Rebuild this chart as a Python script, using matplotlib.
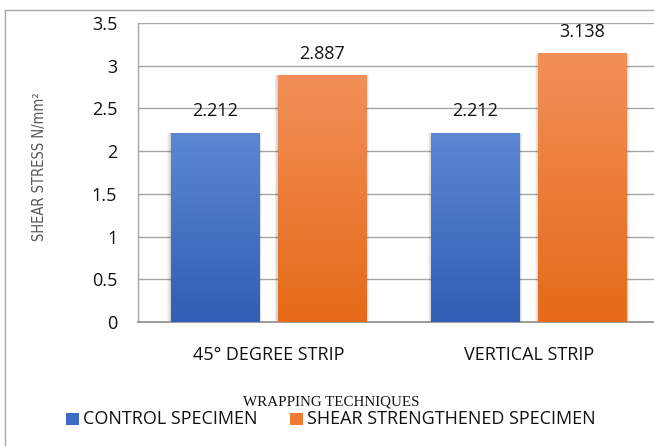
import matplotlib
matplotlib.use("Agg")
import matplotlib.pyplot as plt
import numpy as np
from matplotlib.colors import LinearSegmentedColormap
from matplotlib.lines import Line2D
from matplotlib.patches import Rectangle

categories = ["45° DEGREE STRIP", "VERTICAL STRIP"]
control = [2.212, 2.212]
strengthened = [2.887, 3.138]
series_names = ["CONTROL SPECIMEN", "SHEAR STRENGTHENED SPECIMEN"]
yticks = [0, 0.5, 1, 1.5, 2, 2.5, 3, 3.5]
ytick_labels = ["0", "0.5", "1", "1.5", "2", "2.5", "3", "3.5"]

W, H = 654, 446
fig = plt.figure(figsize=(W / 100, H / 100), dpi=100)
fig.patch.set_facecolor("white")

SANS = ["Open Sans", "DejaVu Sans"]

# outer chart frame (left and top edges visible)
fig.add_artist(Line2D([5 / W, 5 / W], [0, 1 - 10 / H], color="#A6A6A6", lw=1.0))
fig.add_artist(Line2D([5 / W, 1], [1 - 10 / H, 1 - 10 / H], color="#A6A6A6", lw=1.0))

ax = fig.add_axes([138 / W, (H - 322) / H, (659 - 138) / W, (322 - 23) / H])
ax.set_xlim(-0.5, 1.5)
ax.set_ylim(0, 3.5)
ax.set_facecolor("none")

for s in ["top", "right"]:
    ax.spines[s].set_visible(False)
ax.spines["left"].set_color("#A6A6A6")
ax.spines["left"].set_linewidth(1.0)
ax.spines["bottom"].set_color("#8C8C8C")
ax.spines["bottom"].set_linewidth(1.2)

ax.set_yticks(yticks)
ax.set_yticklabels(ytick_labels)
ax.yaxis.grid(True, color="#A6A6A6", lw=1.0)
ax.set_axisbelow(True)
ax.tick_params(axis="y", length=0, pad=15, labelsize=13, labelcolor="#111111")
ax.tick_params(axis="x", length=0, pad=17, labelsize=13, labelcolor="#111111")
x = np.arange(len(categories))
ax.set_xticks(x)
ax.set_xticklabels(categories)
for lab in ax.get_xticklabels() + ax.get_yticklabels():
    lab.set_fontfamily(SANS)

bw = 0.338
off = 0.2055

blue_cmap = LinearSegmentedColormap.from_list("b", ["#2F5EB4", "#5B87D3"])
orange_cmap = LinearSegmentedColormap.from_list("o", ["#E66A18", "#F28F58"])
grad = np.linspace(0, 1, 256).reshape(-1, 1)


def gradient_bar(xc, h, cmap):
    x0, x1 = xc - bw / 2, xc + bw / 2
    # soft shadow around the bar
    for k in range(1, 6):
        d = 0.0025 * k
        ax.add_patch(Rectangle((x0 - d, 0), bw + 2 * d, h, facecolor="#000000",
                               alpha=0.035, lw=0, zorder=2))
    ax.imshow(grad, extent=[x0, x1, 0, h], origin="lower", cmap=cmap,
              aspect="auto", zorder=3, interpolation="bicubic")
    ax.text(xc, h + 0.15, f"{h:.3f}", ha="center", va="bottom", fontsize=13,
            color="#111111", family=SANS, zorder=4)


for i in range(len(categories)):
    gradient_bar(x[i] - off, control[i], blue_cmap)
    gradient_bar(x[i] + off, strengthened[i], orange_cmap)

ax.set_xlim(-0.5, 1.5)
ax.set_ylim(0, 3.5)

# axis titles
fig.text(40 / W, 1 - 167 / H, "SHEAR STRESS N/mm²", rotation=90, ha="center",
         va="center", fontsize=10.5, color="#595959", family=["DejaVu Sans"],
         fontstretch="condensed")
fig.text(331 / W, 1 - 402 / H, "WRAPPING TECHNIQUES", ha="center", va="center",
         fontsize=10.8, color="#111111", family=["Liberation Serif", "DejaVu Serif"])

# legend
fig.patches.append(Rectangle((66 / W, 1 - 425 / H), 13 / W, 12 / H,
                             transform=fig.transFigure, facecolor="#3D6CC3", lw=0))
fig.text(83 / W, 1 - 419 / H, series_names[0], ha="left", va="center", fontsize=13,
         color="#111111", family=SANS)
fig.patches.append(Rectangle((290 / W, 1 - 425 / H), 13 / W, 12 / H,
                             transform=fig.transFigure, facecolor="#EE7B2F", lw=0))
fig.text(307 / W, 1 - 419 / H, series_names[1], ha="left", va="center", fontsize=13,
         color="#111111", family=SANS)

fig.savefig("out.png", dpi=100)
